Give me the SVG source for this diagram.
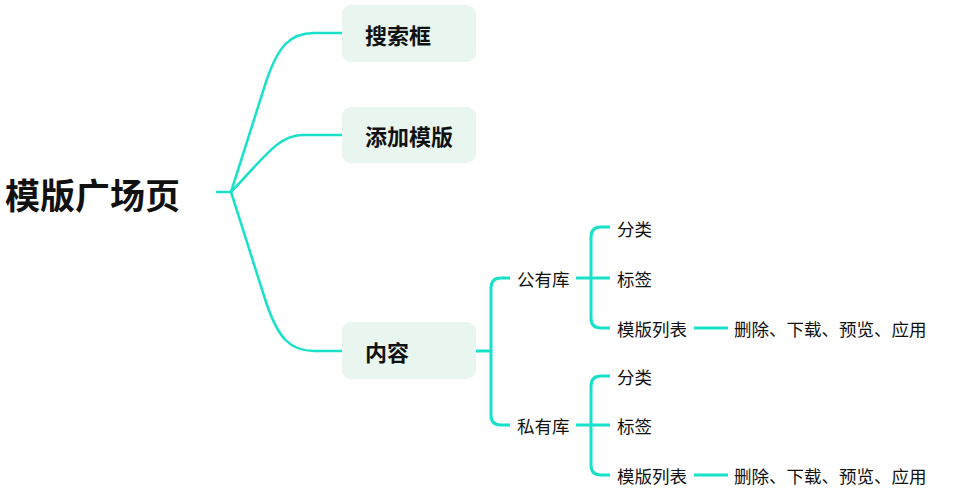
<svg xmlns="http://www.w3.org/2000/svg" width="956" height="502" viewBox="0 0 956 502">
<style>
.c{fill:none;stroke:#17e2c9;stroke-width:2.5;stroke-linecap:butt;stroke-linejoin:round}
.s{stroke-width:3}
.box{fill:#e8f6ef}
text{font-family:"Noto Sans CJK SC","Noto Sans",sans-serif;fill:#111;dominant-baseline:central}
.root{font-size:35px;font-weight:bold}
.b{font-size:22px;font-weight:bold}
.t{font-size:17.5px}
</style>
<rect width="956" height="502" fill="#fff"/>
<g id="connectors">
<path class="c" d="M216 192 H231"/>
<path class="c" d="M231 192 L266 82 C278 46 290 33 314 33 H342"/>
<path class="c" d="M231 192 C262 160 278 135 302 135 H342"/>
<path class="c" d="M231 192 L266 302 C278 338 290 351 314 351 H342"/>
<path class="c s" d="M476 351 H491"/>
<path class="c s" d="M510 278 H501 Q491 278 491 288 V415 Q491 425 501 425 H510"/>
<path class="c s" d="M576 278 H610"/>
<path class="c s" d="M610 227 H601 Q591 227 591 237 V318 Q591 328 601 328 H610"/>
<path class="c s" d="M694 328 H728"/>
<path class="c s" d="M576 425 H610"/>
<path class="c s" d="M610 376 H601 Q591 376 591 386 V465 Q591 475 601 475 H610"/>
<path class="c s" d="M694 475 H728"/>
</g>
<g id="root"><text class="root" x="5" y="193">模版广场页</text></g>
<g id="n-search"><rect class="box" x="342" y="5" width="134" height="57" rx="9"/><text class="b" x="365" y="34">搜索框</text></g>
<g id="n-add"><rect class="box" x="342" y="107" width="134" height="56" rx="9"/><text class="b" x="365" y="135">添加模版</text></g>
<g id="n-content"><rect class="box" x="342" y="322" width="134" height="57" rx="9"/><text class="b" x="365" y="351">内容</text></g>
<g id="n-public"><text class="t" x="517" y="278">公有库</text></g>
<g id="n-pub-cat"><text class="t" x="617" y="228">分类</text></g>
<g id="n-pub-tag"><text class="t" x="617" y="278">标签</text></g>
<g id="n-pub-list"><text class="t" x="617" y="328">模版列表</text></g>
<g id="n-pub-ops"><text class="t" x="734" y="328">删除、下载、预览、应用</text></g>
<g id="n-private"><text class="t" x="517" y="425">私有库</text></g>
<g id="n-pri-cat"><text class="t" x="617" y="376">分类</text></g>
<g id="n-pri-tag"><text class="t" x="617" y="425">标签</text></g>
<g id="n-pri-list"><text class="t" x="617" y="475">模版列表</text></g>
<g id="n-pri-ops"><text class="t" x="734" y="475">删除、下载、预览、应用</text></g>
</svg>
